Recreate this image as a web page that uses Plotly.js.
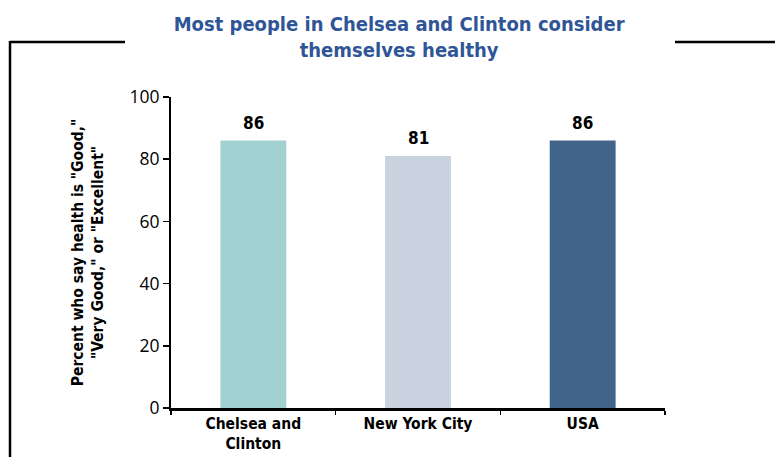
<!DOCTYPE html>
<html>
<head>
<meta charset="utf-8">
<script src="https://cdn.plot.ly/plotly-3.0.1.min.js"></script>
<style>html,body{margin:0;padding:0;background:#fff;}#chart{width:775px;height:457px;}</style>
</head>
<body>
<div id="chart"></div>
<script>
const categories = ["Chelsea and<br>Clinton", "New York City", "USA"];
const values = [86, 81, 86];
const barColors = ["#A1D1D1", "#C8D3DF", "#416489"];
const yTicks = [0, 20, 40, 60, 80, 100];

const FONT = "DejaVu Sans Condensed, Tahoma, sans-serif";

const trace = {
  type: "bar",
  x: categories,
  y: values,
  marker: { color: barColors },
  width: 0.4,
  hoverinfo: "none"
};

const labels = categories.map((c, i) => ({
  x: c, y: values[i], xref: "x", yref: "y",
  text: "<b>" + values[i] + "</b>",
  showarrow: false, yanchor: "bottom", yshift: 6,
  font: { family: FONT, size: 17, color: "#000" }
}));

function px(x) { return (x - 171) / 494; }
function py(y) { return (408 - y) / 311; }

const layout = {
  width: 775,
  height: 457,
  margin: { l: 171, r: 110, t: 97, b: 49 },
  paper_bgcolor: "#fff",
  plot_bgcolor: "#fff",
  showlegend: false,
  title: {
    text: "<b>Most people in Chelsea and Clinton consider<br>themselves healthy</b>",
    font: { family: FONT, size: 20, color: "#2F5597" },
    x: 0.515, xanchor: "center",
    y: 0.932, yanchor: "top", yref: "container"
  },
  xaxis: {
    showline: true, linecolor: "#000", linewidth: 2.5,
    ticks: "outside", ticklen: 4, tickwidth: 1.5, tickcolor: "#000",
    tickson: "boundaries",
    tickfont: { family: FONT, size: 15.5, color: "#000", weight: "bold" },
    showgrid: false, zeroline: false, fixedrange: true
  },
  yaxis: {
    range: [0, 100],
    tickvals: yTicks,
    showline: true, linecolor: "#000", linewidth: 2,
    ticks: "outside", ticklen: 6, tickwidth: 1.5, tickcolor: "#000",
    tickfont: { family: "Open Sans, sans-serif", size: 17.5, color: "#000" },
    showgrid: false, zeroline: false, fixedrange: true,
    title: {
      text: "<b>Percent who say health is \"Good,\"<br>\"Very Good,\" or \"Excellent\"</b>",
      font: { family: FONT, size: 15.5, color: "#000" },
      standoff: 22
    }
  },
  annotations: labels,
  shapes: [
    { type: "line", xref: "paper", yref: "paper", x0: px(10), x1: px(125), y0: py(42), y1: py(42), line: { color: "#000", width: 2.5 } },
    { type: "line", xref: "paper", yref: "paper", x0: px(675), x1: px(776), y0: py(42), y1: py(42), line: { color: "#000", width: 2.5 } },
    { type: "line", xref: "paper", yref: "paper", x0: px(10), x1: px(10), y0: py(41), y1: py(458), line: { color: "#000", width: 2.5 } }
  ]
};

Plotly.newPlot("chart", [trace], layout, { staticPlot: true, displayModeBar: false });
</script>
</body>
</html>
